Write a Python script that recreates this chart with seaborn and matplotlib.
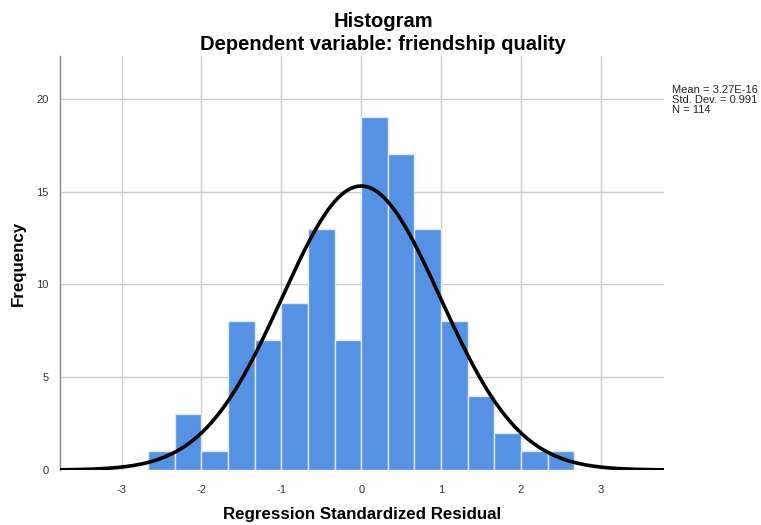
import numpy as np
import pandas as pd
import matplotlib
matplotlib.use("Agg")
import matplotlib.pyplot as plt
import seaborn as sns

# Data
bin_width = 1/3
bin_start = -8/3
counts = [1, 3, 1, 8, 7, 9, 13, 7, 19, 17, 13, 8, 4, 2, 1, 1]
mean_val = 3.27e-16
std_val = 0.991
n_val = 114
x_ticks = [-3, -2, -1, 0, 1, 2, 3]
y_ticks = [0, 5, 10, 15, 20]

edges = bin_start + bin_width * np.arange(len(counts) + 1)
centers = (edges[:-1] + edges[1:]) / 2
df = pd.DataFrame({"resid": centers, "count": counts})

sns.set_style("white")
plt.rcParams["font.family"] = ["Liberation Sans", "DejaVu Sans"]
plt.rcParams["text.color"] = "black"
plt.rcParams["axes.labelcolor"] = "black"

fig = plt.figure(figsize=(7.61, 5.25), dpi=100)
ax = fig.add_axes([60/761, 1 - 470/525, (664-60)/761, (470-56)/525])

sns.histplot(data=df, x="resid", weights="count", binwidth=bin_width,
             binrange=(float(edges[0]), float(edges[-1])), ax=ax,
             color="#5592e3", alpha=1.0, edgecolor="#dfe9f7", linewidth=1.0, zorder=2)

xs = np.linspace(-3.77, 3.79, 400)
ys = n_val * bin_width * np.exp(-0.5 * ((xs - mean_val) / std_val) ** 2) / (std_val * np.sqrt(2 * np.pi))
sns.lineplot(x=xs, y=ys, ax=ax, color="black", linewidth=2.6, zorder=3)

ax.set_xlim(-3.77, 3.79)
ax.set_ylim(0, 22.3)
ax.set_xticks(x_ticks)
ax.set_yticks(y_ticks)
ax.set_xticklabels([str(t) for t in x_ticks])
ax.set_yticklabels([str(t) for t in y_ticks])
ax.grid(True, color="#cccccc", linewidth=1.0, zorder=0)
ax.set_axisbelow(True)
for s in ["top", "right", "bottom"]:
    ax.spines[s].set_visible(False)
ax.spines["left"].set_color("#888888")
ax.spines["left"].set_linewidth(1.0)
ax.tick_params(axis="both", length=0, labelsize=8, colors="#333333")
ax.tick_params(axis="x", pad=11)
ax.tick_params(axis="y", pad=8)

ax.set_xlabel("Regression Standardized Residual", fontsize=12.2, fontweight="bold", color="black")
ax.set_ylabel("Frequency", fontsize=12.2, fontweight="bold", color="black")
ax.xaxis.set_label_coords(0.5, (470 - 515) / 414, transform=ax.transAxes)
ax.xaxis.label.set_va("center")
ax.yaxis.set_label_coords((18 - 60) / 604, 0.5, transform=ax.transAxes)
ax.yaxis.label.set_va("center")
ax.set_title("Histogram\nDependent variable: friendship quality", fontsize=14.5,
             fontweight="bold", pad=4, linespacing=1.3, color="black",
             x=(383 - 60) / 604)

fig.text(672/761, 1 - 85/525,
         f"Mean = 3.27E-16\nStd. Dev. = {std_val}\nN = {n_val}",
         fontsize=8, va="top", ha="left", color="#222222", linespacing=1.0)

fig.savefig("out.png", dpi=100)
